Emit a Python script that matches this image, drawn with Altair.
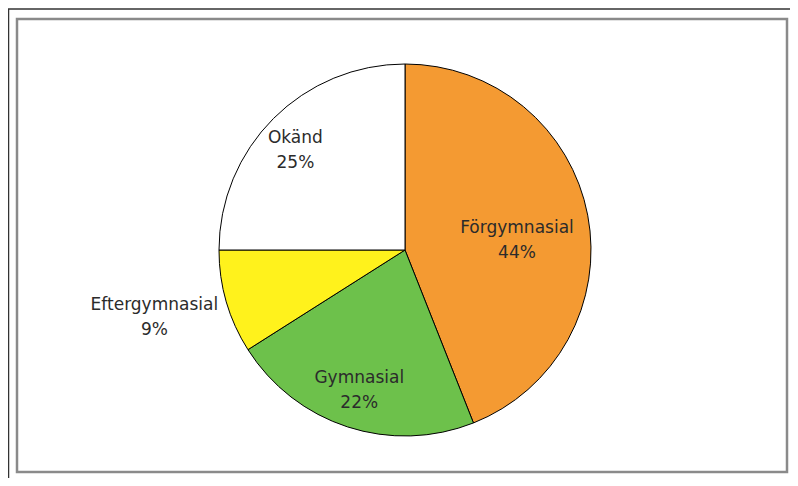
import altair as alt
import pandas as pd

categories = ["Förgymnasial", "Gymnasial", "Eftergymnasial", "Okänd"]
values = [44, 22, 9, 25]
colors = ["#F49A32", "#6DC14B", "#FFF21C", "#FFFFFF"]

df = pd.DataFrame({"cat": categories, "pct": values, "idx": list(range(len(categories)))})

CX, CY, R = 397, 242, 186

arcs = alt.Chart(df).mark_arc(stroke="#000000", strokeWidth=1, radius=R).encode(
    theta=alt.Theta("pct:Q", stack=True),
    order=alt.Order("idx:Q"),
    color=alt.Color("cat:N", scale=alt.Scale(domain=categories, range=colors), legend=None),
    x=alt.value(CX), y=alt.value(CY),
)

lab_base = alt.Chart(df).transform_stack(
    stack="pct", groupby=[], as_=["s0", "s1"], sort=[alt.SortField("idx", order="ascending")]
).transform_calculate(
    mid="(datum.s0 + datum.s1) / 2",
    lab="datum.cat + '\\n' + datum.pct + '%'",
)

def label(cat, radius, dy=0):
    return lab_base.transform_filter(alt.datum.cat == cat).mark_text(
        radius=radius, fontSize=17, font="DejaVu Sans", color="#2b2b2b",
        lineBreak="\n", lineHeight=25, baseline="middle", align="center", dy=dy
    ).encode(
        theta=alt.Theta("mid:Q", stack=None, scale=alt.Scale(domain=[0, 100])),
        text="lab:N", x=alt.value(CX), y=alt.value(CY),
    )

labels = [
    label("Förgymnasial", 114, -1),
    label("Gymnasial", 148, -13),
    label("Eftergymnasial", 261, -18),
    label("Okänd", 155, -2),
]

frame_df = pd.DataFrame({"k": [0]})
inner = alt.Chart(frame_df).mark_rect(fill=None, stroke="#8a8a8a", strokeWidth=2.5).encode(
    x=alt.value(9), x2=alt.value(779), y=alt.value(11), y2=alt.value(464)
)
top_line = alt.Chart(frame_df).mark_rule(color="#333333", strokeWidth=1.5).encode(
    x=alt.value(0), x2=alt.value(782), y=alt.value(1)
)
left_line = alt.Chart(frame_df).mark_rule(color="#333333", strokeWidth=1.5).encode(
    x=alt.value(0.5), y=alt.value(1), y2=alt.value(470)
)

chart = alt.layer(top_line, left_line, inner, arcs, *labels).properties(
    width=782, height=470, padding=0, autosize=alt.AutoSizeParams(type="none"),
    background="#ffffff"
).configure_view(stroke=None)

chart.save("out.html", embed_options={"renderer": "svg", "actions": False})
